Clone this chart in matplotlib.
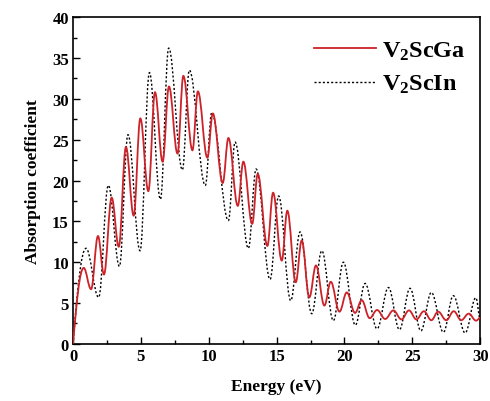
import matplotlib
matplotlib.use("Agg")
import matplotlib.pyplot as plt
from matplotlib.path import Path
from matplotlib.patches import PathPatch
from matplotlib.lines import Line2D
from matplotlib.ticker import MultipleLocator

# Extrema (peaks / troughs)
ga_x = [0, 0.79, 1.33, 1.84, 2.28, 2.85, 3.37, 3.9, 4.47, 4.96, 5.55, 6.04, 6.6, 7.07, 7.7,
        8.13, 8.8, 9.2, 9.9, 10.3, 11.03, 11.45, 12.14, 12.55, 13.2, 13.61, 14.32, 14.74,
        15.38, 15.79, 16.41, 16.85, 17.41, 17.9, 18.52, 18.99, 19.63, 20.17, 20.78, 21.27,
        21.86, 22.4, 23.0, 23.6, 24.2, 24.75, 25.3, 25.85, 26.4, 26.9, 27.5, 28.05, 28.6,
        29.15, 29.7, 30.0]
ga_y = [0, 9.3, 6.7, 13.2, 8.5, 17.9, 11.9, 24.1, 15.7, 27.6, 18.7, 30.8, 22.3, 31.5, 23.3,
        32.8, 23.7, 30.9, 22.8, 28.2, 19.7, 25.2, 16.9, 22.3, 14.7, 20.8, 12.0, 18.5,
        10.2, 16.3, 7.55, 12.65, 5.7, 9.6, 4.7, 7.6, 3.95, 6.3, 3.8, 5.35,
        3.15, 4.15, 3.05, 4.1, 3.0, 4.1, 3.0, 4.0, 2.9, 3.95, 2.9, 4.0, 2.9,
        3.7, 2.85, 3.2]

in_x = [0, 0.96, 1.89, 2.6, 3.42, 4.05, 4.94, 5.63, 6.44, 7.05, 8.06, 8.57, 9.75, 10.22,
        11.45, 11.94, 12.92, 13.49, 14.52, 15.15, 16.04, 16.73, 17.59, 18.33, 19.18, 19.92,
        20.8, 21.52, 22.4, 23.24, 24.05, 24.83, 25.63, 26.4, 27.29, 28.02, 28.89, 29.68, 30.0]
in_y = [0, 11.7, 5.7, 19.4, 9.5, 25.6, 11.4, 33.2, 17.7, 36.2, 21.3, 33.5, 19.4, 28.3,
        15.1, 24.7, 11.7, 21.4, 7.9, 18.1, 5.3, 13.7, 3.7, 11.4, 2.85, 10.0,
        2.3, 7.4, 1.85, 6.9, 1.75, 6.8, 1.6, 6.3, 1.43, 5.9, 1.35, 5.65, 3.0]

labels = ["V$_2$ScGa", "V$_2$ScIn"]
xticks = [0, 5, 10, 15, 20, 25, 30]
yticks = [0, 5, 10, 15, 20, 25, 30, 35, 40]


def smooth_path(xs, ys):
    """Smooth curve through extrema: cubic Bezier with flat tangents at extrema."""
    verts = [(xs[0], ys[0])]
    codes = [Path.MOVETO]
    for i in range(1, len(xs)):
        x0, y0 = xs[i - 1], ys[i - 1]
        x1, y1 = xs[i], ys[i]
        dx = x1 - x0
        if i == 1:
            c1 = (x0 + dx / 3, y0 + (y1 - y0) * 0.55)
        else:
            c1 = (x0 + dx * 0.38, y0)
        if i == len(xs) - 1:
            c2 = (x1 - dx / 3, y1)
        else:
            c2 = (x1 - dx * 0.38, y1)
        verts += [c1, c2, (x1, y1)]
        codes += [Path.CURVE4] * 3
    return Path(verts, codes)


plt.rcParams['font.family'] = ['Liberation Serif', 'DejaVu Serif']
plt.rcParams['mathtext.fontset'] = 'custom'
plt.rcParams['mathtext.rm'] = 'Liberation Serif:bold'
plt.rcParams['mathtext.it'] = 'Liberation Serif:bold'
plt.rcParams['mathtext.bf'] = 'Liberation Serif:bold'

fig = plt.figure(figsize=(4.9, 4.02), dpi=100)
ax = fig.add_axes([0.149, 0.142, 0.831, 0.813])

red = '#cc2228'
ax.add_patch(PathPatch(smooth_path(ga_x, ga_y), fill=False, edgecolor=red, lw=1.3,
                       zorder=3))
ax.add_patch(PathPatch(smooth_path(in_x, in_y), fill=False, edgecolor='black', lw=1.0,
                       linestyle=(0, (1.5, 1.5)), zorder=2))

ax.set_xlim(0, 30)
ax.set_ylim(0, 40)
ax.set_xticks(xticks)
ax.set_yticks(yticks)
ax.xaxis.set_minor_locator(MultipleLocator(2.5))
ax.yaxis.set_minor_locator(MultipleLocator(2.5))
ax.tick_params(which='both', direction='in', top=False, right=False, width=1.0)
ax.tick_params(which='major', length=5, labelsize=12, pad=3)
ax.tick_params(which='minor', length=3)
for lab in ax.get_xticklabels() + ax.get_yticklabels():
    lab.set_fontweight('bold')
for sp in ax.spines.values():
    sp.set_linewidth(1.2)

ax.set_xlabel('Energy (eV)', fontsize=12.5, fontweight='bold', labelpad=10)
ax.set_ylabel('Absorption coefficient', fontsize=12.5, fontweight='bold', labelpad=8)

handles = [Line2D([], [], color=red, lw=1.3),
           Line2D([], [], color='black', lw=1.0, linestyle=(0, (1.5, 1.5)))]
leg = ax.legend(handles, labels, loc='upper right', frameon=False,
                prop={'family': 'Liberation Serif', 'weight': 'bold', 'size': 17.5},
                handlelength=2.55, handletextpad=0.25, labelspacing=0.45,
                borderaxespad=0.2, bbox_to_anchor=(1.0, 0.975))

fig.savefig('out.png', dpi=100)
